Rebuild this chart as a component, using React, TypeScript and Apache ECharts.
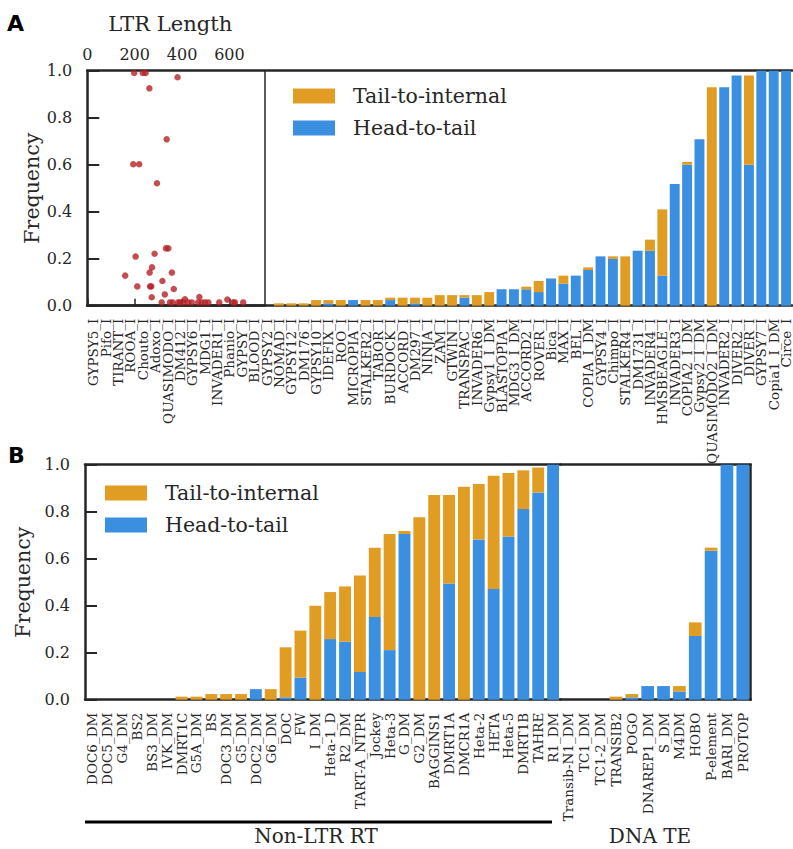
import React, { useEffect, useRef } from "react";
import * as echarts from "echarts";

// ---------- Panel A: LTR retrotransposons ----------
const ltrCategories = [
  "GYPSY5_I", "Pifo_I", "TIRANT_I", "ROOA_I", "Chouto_I", "Adoxo_I", "QUASIMODO_I", "DM412_I",
  "GYPSY6_I", "MDG1_I", "INVADER1_I", "Phanio_I", "GYPSY_I", "BLOOD_I", "GYPSY2_I", "NOMAD_I",
  "GYPSY12_I", "DM176_I", "GYPSY10_I", "IDEFIX_I", "ROO_I", "MICROPIA_I", "STALKER2_I", "TABOR_I",
  "BURDOCK_I", "ACCORD_I", "DM297_I", "NINJA_I", "ZAM_I", "GTWIN_I", "TRANSPAC_I", "INVADER6_I",
  "Gypsy1_I_DM", "BLASTOPIA_I", "MDG3_I_DM", "ACCORD2_I", "ROVER_I", "Bica_I", "MAX_I", "BEL_I",
  "COPIA_I_DM", "GYPSY4_I", "Chimpo_I", "STALKER4_I", "DM1731_I", "INVADER4_I", "HMSBEAGLE_I",
  "INVADER3_I", "COPIA2_I_DM", "Gypsy2_I_DM", "QUASIMODO2_I_DM", "INVADER2_I", "DIVER2_I",
  "DIVER_I", "GYPSY7_I", "Copia1_I_DM", "Circe_I",
];
const ltrHeadToTail = [
  0, 0, 0, 0, 0, 0, 0, 0, 0, 0, 0, 0, 0, 0, 0, 0,
  0, 0, 0, 0.01, 0, 0.024, 0, 0,
  0.024, 0, 0.01, 0, 0, 0, 0.035, 0,
  0, 0.07, 0.07, 0.07, 0.058, 0.116, 0.094, 0.128,
  0.152, 0.21, 0.199, 0, 0.234, 0.234, 0.128,
  0.518, 0.6, 0.708, 0, 0.93, 0.98,
  0.6, 1, 1, 1,
];
const ltrTailToInternal = [
  0, 0, 0, 0, 0, 0, 0, 0, 0, 0, 0, 0, 0, 0, 0, 0.01,
  0.01, 0.01, 0.024, 0.014, 0.024, 0, 0.024, 0.024,
  0.01, 0.034, 0.024, 0.034, 0.045, 0.045, 0.01, 0.045,
  0.058, 0, 0, 0.011, 0.047, 0, 0.034, 0,
  0.011, 0, 0.011, 0.21, 0, 0.047, 0.282,
  0, 0.012, 0, 0.93, 0, 0,
  0.38, 0, 0, 0,
];

// LTR length vs frequency (scatter inset)
const ltrLengths = [
  198, 234, 246, 381, 262, 335, 194, 219, 294, 332, 342, 204, 284, 273, 263, 357,
  160, 317, 211, 265, 270, 365, 327, 272, 473, 591, 412,
  314, 349, 360, 384, 391, 405, 426, 441, 468, 483, 497, 511, 557, 616, 623, 658,
];
const ltrFrequencies = [
  0.99, 0.99, 0.99, 0.972, 0.925, 0.708, 0.602, 0.602, 0.521, 0.244, 0.244, 0.209, 0.221, 0.163, 0.141, 0.141,
  0.128, 0.105, 0.082, 0.082, 0.082, 0.071, 0.048, 0.036, 0.037, 0.026, 0.027,
  0.014, 0.014, 0.014, 0.014, 0.014, 0.014, 0.014, 0.014, 0.014, 0.014, 0.014, 0.014, 0.014, 0.014, 0.014, 0.014,
];

// ---------- Panel B: Non-LTR RT ----------
const nonLtrCategories = [
  "DOC6_DM", "DOC5_DM", "G4_DM", "BS2", "BS3_DM", "IVK_DM", "DMRT1C", "G5A_DM", "BS", "DOC3_DM",
  "G5_DM", "DOC2_DM", "G6_DM", "DOC", "FW", "I_DM", "Heta-1_D", "R2_DM", "TART-A_NTPR", "Jockey",
  "Heta-3", "G_DM", "G2_DM", "BAGGINS1", "DMRT1A", "DMCR1A", "Heta-2", "HETA", "Heta-5", "DMRT1B",
  "TAHRE", "R1_DM",
];
const nonLtrHeadToTail = [
  0, 0, 0, 0, 0, 0, 0, 0, 0, 0,
  0, 0.045, 0, 0.01, 0.094, 0, 0.258, 0.247, 0.118, 0.352,
  0.211, 0.705, 0, 0, 0.494, 0, 0.682, 0.471, 0.694, 0.811,
  0.882, 1,
];
const nonLtrTailToInternal = [
  0, 0, 0, 0, 0, 0, 0.013, 0.013, 0.024, 0.024,
  0.024, 0, 0.045, 0.213, 0.2, 0.4, 0.2, 0.235, 0.411, 0.295,
  0.494, 0.013, 0.776, 0.871, 0.377, 0.906, 0.236, 0.482, 0.271, 0.165,
  0.106, 0,
];

// ---------- Panel B: DNA TE ----------
const dnaCategories = [
  "Transib-N1_DM", "TC1_DM", "TC1-2_DM", "TRANSIB2", "POGO", "DNAREP1_DM", "S_DM", "M4DM",
  "HOBO", "P-element", "BARI_DM", "PROTOP",
];
const dnaHeadToTail = [0, 0, 0, 0, 0.01, 0.058, 0.058, 0.035, 0.271, 0.634, 1, 1];
const dnaTailToInternal = [0, 0, 0, 0.013, 0.014, 0, 0, 0.023, 0.058, 0.013, 0, 0];

const yTicks = [0, 0.2, 0.4, 0.6, 0.8, 1.0];
const groupLabels = ["Non-LTR RT", "DNA TE"];

const ORANGE = "#E19C24";
const BLUE = "#3B8FE0";
const RED = "#B52127";
const INK = "#262626";
const SERIF = "DejaVu Serif";

export default function App() {
  const ref = useRef<HTMLDivElement>(null);

  useEffect(() => {
    document.body.style.margin = "0";
    if (!ref.current) return;
    const chart = echarts.init(ref.current, null, { renderer: "svg" });

    const spine = { show: true, lineStyle: { color: INK, width: 2.5 } };
    const catLabel = {
      interval: 0,
      rotate: 90,
      fontSize: 13.5,
      fontFamily: SERIF,
      color: INK,
      margin: 13,
    };
    const yLabel = {
      fontSize: 16,
      fontFamily: SERIF,
      color: INK,
      margin: 15,
      formatter: (v: number) => v.toFixed(1),
    };
    const yName = { fontSize: 20.5, fontFamily: SERIF, color: INK };
    const inTick = { show: true, inside: true, length: 12, lineStyle: { color: INK, width: 2 } };

    const barBase = { type: "bar", barWidth: "80%" };
    const legendBase = {
      data: ["Tail-to-internal", "Head-to-tail"],
      orient: "vertical",
      padding: 0,
      itemWidth: 42,
      itemHeight: 15,
      itemGap: 11,
      icon: "rect",
      selectedMode: false,
      textStyle: { fontSize: 20.5, fontFamily: SERIF, color: INK, padding: [0, 0, 0, 13] },
    };

    const option: any = {
      animation: false,
      backgroundColor: "#fff",
      grid: [
        { left: 87.2, top: 70.7, width: 710, height: 235 },
        { left: 87.3, top: 70.7, width: 177.7, height: 235 },
        { left: 85, top: 464.7, width: 475.5, height: 235 },
        { left: 560.5, top: 464.7, width: 190.2, height: 235 },
      ],
      xAxis: [
        { type: "category", gridIndex: 0, data: ltrCategories, position: "bottom", axisLine: spine, axisTick: { show: false }, axisLabel: catLabel },
        { type: "category", gridIndex: 0, data: ltrCategories, position: "top", axisLine: spine, axisTick: { show: false }, axisLabel: { show: false } },
        {
          type: "value", gridIndex: 1, position: "top", min: 0, max: 750, interval: 200,
          axisLine: spine,
          axisTick: { show: true, length: 7, lineStyle: { color: INK, width: 1.5 } },
          axisLabel: { fontSize: 16, fontFamily: SERIF, color: INK, margin: 8, showMaxLabel: false },
          splitLine: { show: false },
          name: "LTR Length", nameLocation: "middle", nameGap: 36,
          nameTextStyle: { fontSize: 21, fontFamily: SERIF, color: INK, padding: [0, 12, 0, 0] },
        },
        { type: "category", gridIndex: 2, data: nonLtrCategories, position: "bottom", axisLine: spine, axisTick: { show: false }, axisLabel: catLabel },
        { type: "category", gridIndex: 2, data: nonLtrCategories, position: "top", axisLine: spine, axisTick: { show: false }, axisLabel: { show: false } },
        { type: "category", gridIndex: 3, data: dnaCategories, position: "bottom", axisLine: spine, axisTick: { show: false }, axisLabel: catLabel },
        { type: "category", gridIndex: 3, data: dnaCategories, position: "top", axisLine: spine, axisTick: { show: false }, axisLabel: { show: false } },
      ],
      yAxis: [
        { type: "value", gridIndex: 0, min: 0, max: 1, show: false },
        {
          type: "value", gridIndex: 1, min: yTicks[0], max: yTicks[yTicks.length - 1], interval: 0.2, position: "left",
          axisLine: spine, axisTick: inTick, axisLabel: yLabel, splitLine: { show: false },
          name: "Frequency", nameLocation: "middle", nameGap: 45, nameTextStyle: yName,
        },
        {
          type: "value", gridIndex: 1, min: 0, max: 1, position: "right",
          axisLine: { show: true, lineStyle: { color: INK, width: 1.5 } },
          axisTick: { show: false }, axisLabel: { show: false }, splitLine: { show: false },
        },
        {
          type: "value", gridIndex: 2, min: yTicks[0], max: yTicks[yTicks.length - 1], interval: 0.2, position: "left",
          axisLine: spine, axisTick: inTick, axisLabel: yLabel, splitLine: { show: false },
          name: "Frequency", nameLocation: "middle", nameGap: 45, nameTextStyle: yName,
        },
        {
          type: "value", gridIndex: 3, min: 0, max: 1, position: "right",
          axisLine: spine, axisTick: { show: false }, axisLabel: { show: false }, splitLine: { show: false },
        },
      ],
      legend: [
        { ...legendBase, left: 293, top: 85.5 },
        { ...legendBase, left: 105, top: 482.5 },
      ],
      series: [
        { ...barBase, name: "Head-to-tail", xAxisIndex: 0, yAxisIndex: 0, stack: "a", data: ltrHeadToTail, itemStyle: { color: BLUE } },
        { ...barBase, name: "Tail-to-internal", xAxisIndex: 0, yAxisIndex: 0, stack: "a", data: ltrTailToInternal, itemStyle: { color: ORANGE } },
        { ...barBase, name: "Head-to-tail", xAxisIndex: 3, yAxisIndex: 3, stack: "b1", data: nonLtrHeadToTail, itemStyle: { color: BLUE } },
        { ...barBase, name: "Tail-to-internal", xAxisIndex: 3, yAxisIndex: 3, stack: "b1", data: nonLtrTailToInternal, itemStyle: { color: ORANGE } },
        { ...barBase, name: "Head-to-tail", xAxisIndex: 5, yAxisIndex: 4, stack: "b2", data: dnaHeadToTail, itemStyle: { color: BLUE } },
        { ...barBase, name: "Tail-to-internal", xAxisIndex: 5, yAxisIndex: 4, stack: "b2", data: dnaTailToInternal, itemStyle: { color: ORANGE } },
        {
          type: "scatter", name: "LTR", xAxisIndex: 2, yAxisIndex: 1, symbolSize: 6.5, z: 5,
          data: ltrLengths.map((l, i) => [l, ltrFrequencies[i]]),
          itemStyle: { color: RED },
        },
      ],
      graphic: [
        { type: "text", x: 7, y: 23, style: { text: "A", font: 'bold 22px "DejaVu Sans"', fill: "#000", verticalAlign: "middle" } },
        { type: "text", x: 8, y: 455, style: { text: "B", font: 'bold 22px "DejaVu Sans"', fill: "#000", verticalAlign: "middle" } },
        { type: "line", shape: { x1: 85, y1: 822, x2: 552, y2: 822 }, style: { stroke: "#000", lineWidth: 3 } },
        { type: "text", x: 316, y: 836, style: { text: groupLabels[0], font: `20px "${SERIF}"`, fill: INK, align: "center", verticalAlign: "middle" } },
        { type: "text", x: 650, y: 836, style: { text: groupLabels[1], font: `20px "${SERIF}"`, fill: INK, align: "center", verticalAlign: "middle" } },
      ],
    };

    chart.setOption(option);
    return () => chart.dispose();
  }, []);

  return <div ref={ref} style={{ width: 793, height: 849 }} />;
}
